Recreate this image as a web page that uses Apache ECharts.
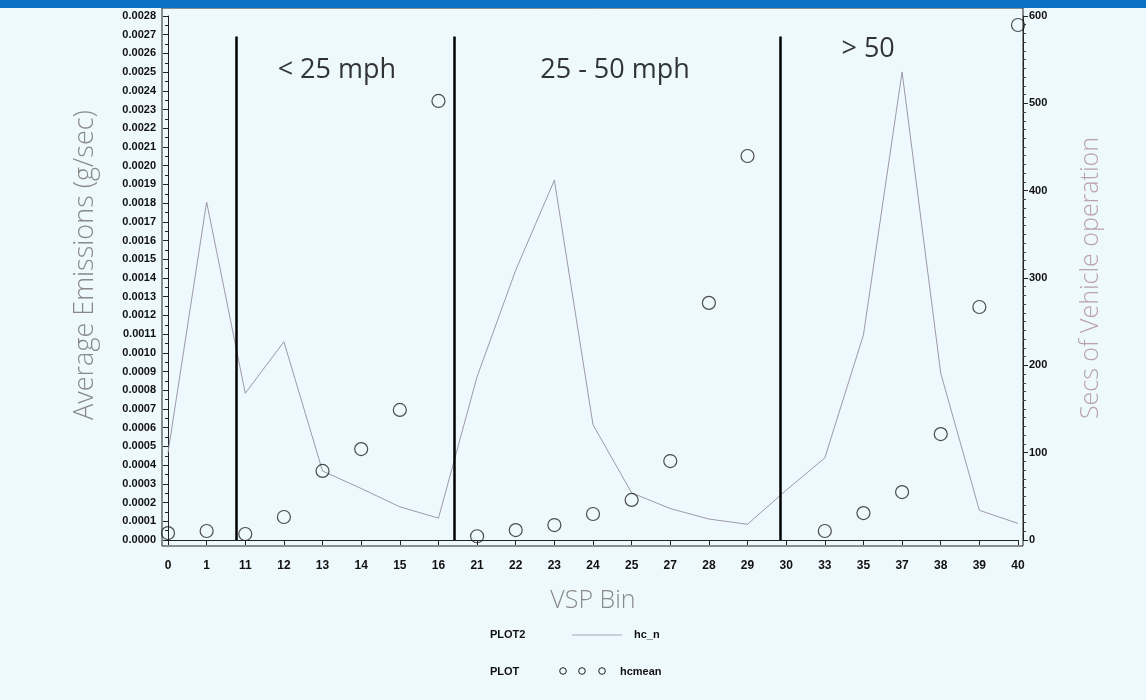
<!DOCTYPE html>
<html>
<head>
<meta charset="utf-8">
<script src="https://cdn.jsdelivr.net/npm/echarts@6/dist/echarts.min.js"></script>
<style>
html,body{margin:0;padding:0;background:#eef9fd;}
#chart{width:1146px;height:700px;}
</style>
</head>
<body>
<div id="chart"></div>
<script>
// ---- data ----
const categories = ['0','1','11','12','13','14','15','16','21','22','23','24','25','27','28','29','30','33','35','37','38','39','40'];
const hcMean = [0.000037,0.000048,0.000032,0.000123,0.000369,0.000486,0.000695,0.002346,0.000020,0.000053,0.000080,0.000139,0.000214,0.000422,0.001267,0.002052,null,0.000048,0.000144,0.000256,0.000566,0.001245,0.002752];
const hcN = [100,387,168,227,79,59,38,25,187,309,412,132,54,36,24,18,57,94,235,536,191,34,19];
const dividerPositions = [1.76, 7.40, 15.84];   // category-index positions of the speed boundaries
const dividerTop = 0.00269;
const zoneLabels = ['< 25 mph', '25 - 50 mph', '> 50'];
const zoneLabelX = [4.37, 11.57, 18.12];
const zoneLabelY = [0.00251, 0.00251, 0.00262];
const leftTicks = {min: 0, max: 0.0028, interval: 0.0001};
const rightTicks = {min: 0, max: 600, interval: 100};

const chart = echarts.init(document.getElementById('chart'));
const tickFont = {fontFamily: 'Liberation Sans', fontWeight: 'bold', fontSize: 11, color: '#111'};
const titleFont = '"Open Sans", Lato, sans-serif';

const dividerLines = dividerPositions.map(x => [{coord: [x, 0]}, {coord: [x, dividerTop]}]);

const option = {
  backgroundColor: '#eef9fd',
  animation: false,
  grid: [
    {left: 162, top: 8, width: 861, height: 538, show: true, borderColor: '#222', borderWidth: 1, backgroundColor: 'transparent'},
    {left: 168, right: 128, top: 16, bottom: 160}
  ],
  xAxis: [
    {
      type: 'category', gridIndex: 1, data: categories, boundaryGap: false, offset: 6,
      axisLine: {show: true, lineStyle: {color: '#222', width: 1}},
      axisTick: {show: true, alignWithLabel: true, length: 5, lineStyle: {color: '#222'}},
      axisLabel: Object.assign({margin: 14, interval: 0}, tickFont, {fontSize: 12}),
      splitLine: {show: false},
      name: 'VSP Bin', nameLocation: 'middle', nameGap: 42,
      nameTextStyle: {fontFamily: titleFont, fontWeight: 300, fontSize: 25, color: '#8a8a8a'}
    },
    {
      type: 'value', gridIndex: 1, min: 0, max: categories.length - 1, show: false
    }
  ],
  yAxis: [
    {
      type: 'value', gridIndex: 1, position: 'left', offset: 6,
      min: leftTicks.min, max: leftTicks.max, interval: leftTicks.interval,
      axisLine: {show: true, lineStyle: {color: '#222'}},
      axisTick: {show: true, length: 5, lineStyle: {color: '#222'}},
      minorTick: {show: true, splitNumber: 2, length: 3, lineStyle: {color: '#222'}},
      axisLabel: Object.assign({margin: 6, formatter: v => v.toFixed(4)}, tickFont),
      splitLine: {show: false},
      name: 'Average Emissions (g/sec)', nameLocation: 'middle', nameGap: 63,
      nameTextStyle: {fontFamily: titleFont, fontWeight: 300, fontSize: 27, color: '#8a8a8a', padding: [0, 0, 0, 26]}
    },
    {
      type: 'value', gridIndex: 1, position: 'right', offset: 5,
      min: rightTicks.min, max: rightTicks.max, interval: rightTicks.interval,
      axisLine: {show: true, lineStyle: {color: '#222'}},
      axisTick: {show: true, length: 5, lineStyle: {color: '#222'}},
      minorTick: {show: true, splitNumber: 10, length: 3, lineStyle: {color: '#444'}},
      axisLabel: Object.assign({margin: 6}, tickFont),
      splitLine: {show: false},
      name: 'Secs of Vehicle operation', nameLocation: 'middle', nameGap: 55,
      nameTextStyle: {fontFamily: titleFont, fontWeight: 300, fontSize: 25, color: '#b9a3ae'}
    }
  ],
  series: [
    {
      name: 'hc_n', type: 'line', xAxisIndex: 0, yAxisIndex: 1, data: hcN,
      symbol: 'none', lineStyle: {color: '#9c99aa', width: 1}, z: 3
    },
    {
      name: 'hcmean', type: 'scatter', xAxisIndex: 0, yAxisIndex: 0, data: hcMean,
      symbol: 'circle', symbolSize: 13,
      itemStyle: {color: 'rgba(0,0,0,0)', borderColor: '#222', borderWidth: 1.2}, z: 4
    },
    {
      name: 'zones', type: 'scatter', xAxisIndex: 1, yAxisIndex: 0,
      data: zoneLabels.map((t, i) => ({name: t, value: [zoneLabelX[i], zoneLabelY[i]]})),
      symbolSize: 0, silent: true,
      label: {show: true, position: 'inside', formatter: '{b}', fontFamily: titleFont, fontSize: 27, color: '#000'},
      markLine: {
        silent: true, symbol: ['none', 'none'],
        lineStyle: {color: '#000', width: 2.5, type: 'solid'},
        label: {show: false},
        data: dividerLines
      },
      z: 5
    }
  ],
  graphic: [
    {type: 'rect', left: 0, top: 0, shape: {width: 1146, height: 8}, style: {fill: '#0a71c3'}, z: 10},
    {type: 'text', left: 490, top: 629, style: {text: 'PLOT2', font: 'bold 11px "Liberation Sans"', fill: '#111'}},
    {type: 'line', shape: {x1: 572, y1: 635, x2: 622, y2: 635}, style: {stroke: '#a8a6b6', lineWidth: 1}},
    {type: 'text', left: 634, top: 629, style: {text: 'hc_n', font: 'bold 11px "Liberation Sans"', fill: '#111'}},
    {type: 'text', left: 490, top: 666, style: {text: 'PLOT', font: 'bold 11px "Liberation Sans"', fill: '#111'}},
    {type: 'circle', shape: {cx: 563, cy: 671, r: 3.3}, style: {fill: 'none', stroke: '#222', lineWidth: 1}},
    {type: 'circle', shape: {cx: 582, cy: 671, r: 3.3}, style: {fill: 'none', stroke: '#222', lineWidth: 1}},
    {type: 'circle', shape: {cx: 602, cy: 671, r: 3.3}, style: {fill: 'none', stroke: '#222', lineWidth: 1}},
    {type: 'text', left: 620, top: 666, style: {text: 'hcmean', font: 'bold 11px "Liberation Sans"', fill: '#111'}}
  ]
};
chart.setOption(option);
</script>
</body>
</html>
